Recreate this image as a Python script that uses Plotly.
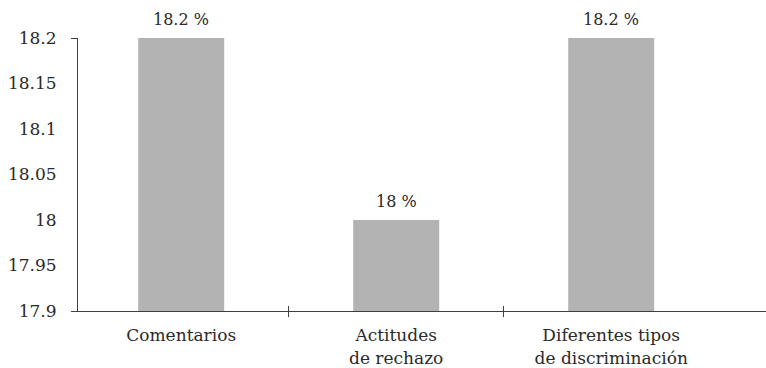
import plotly.graph_objects as go

# Survey results by category
categories = ["Comentarios", "Actitudes<br>de rechazo", "Diferentes tipos<br>de discriminación"]
values = [18.2, 18.0, 18.2]
value_labels = ["18.2 %", "18 %", "18.2 %"]
y_ticks = [17.9, 17.95, 18.0, 18.05, 18.1, 18.15, 18.2]
y_tick_text = ["17.9", "17.95", "18", "18.05", "18.1", "18.15", "18.2"]

FONT = "DejaVu Serif"
TXT = "#2a2a2a"
AXIS = "#404040"
BAR = "#b3b3b3"

positions = list(range(len(categories)))
boundaries = [p + 0.5 for p in positions[:-1]]
x_range = [-0.48, 2.72]
y_range = [y_ticks[0], y_ticks[-1]]

fig = go.Figure()
fig.add_trace(go.Bar(
    x=positions, y=values, width=0.4,
    marker=dict(color=BAR, line=dict(width=0)),
    hoverinfo="skip",
))

# value labels above each bar
for p, v, t in zip(positions, values, value_labels):
    fig.add_annotation(x=p, y=v, text=t, showarrow=False, yanchor="bottom",
                       yshift=7, font=dict(family=FONT, size=16, color=TXT))

fig.update_layout(
    width=766, height=368,
    margin=dict(l=78, r=0, t=38, b=57),
    plot_bgcolor="white", paper_bgcolor="white",
    showlegend=False,
    font=dict(family=FONT, size=17, color=TXT),
    xaxis=dict(
        range=x_range, tickvals=positions, ticktext=categories, ticks="",
        showline=True, linecolor=AXIS, linewidth=1, showgrid=False, zeroline=False,
        ticklabelstandoff=9,
        minor=dict(tickvals=boundaries, ticks="outside", ticklen=5,
                   tickcolor=AXIS, tickwidth=1),
        tickfont=dict(family=FONT, size=17, color=TXT),
    ),
    # upper half of the category-boundary ticks (they cross the axis line)
    xaxis2=dict(
        range=x_range, overlaying="x", tickvals=boundaries, ticks="inside",
        ticklen=5, tickcolor=AXIS, tickwidth=1, showticklabels=False,
        showline=False, showgrid=False, zeroline=False, side="bottom",
    ),
    yaxis=dict(
        range=y_range, tickvals=y_ticks, ticktext=y_tick_text, ticks="",
        showline=True, linecolor=AXIS, linewidth=1, showgrid=False, zeroline=False,
        ticklabelstandoff=17,
        tickfont=dict(family=FONT, size=17, color=TXT),
    ),
    # tick marks only at the two ends of the value axis
    yaxis2=dict(
        range=y_range, overlaying="y", tickvals=[y_ticks[0], y_ticks[-1]],
        ticks="outside", ticklen=6, tickcolor=AXIS, tickwidth=1,
        showticklabels=False, showline=False, showgrid=False, zeroline=False,
        side="left",
    ),
)
fig.add_trace(go.Scatter(x=[None], y=[None], xaxis="x2", yaxis="y2",
                         hoverinfo="skip", showlegend=False))

fig.write_html("out.html")
